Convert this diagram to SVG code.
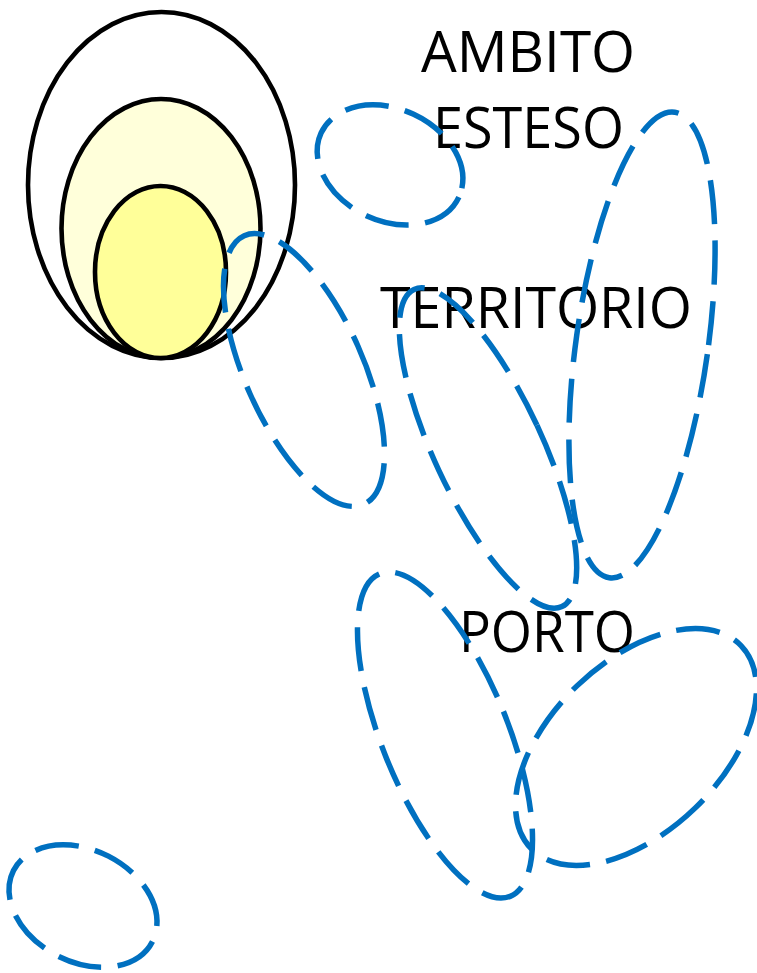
<svg xmlns="http://www.w3.org/2000/svg" width="757" height="973" viewBox="0 0 757 973">
<style>
.lbl{font-family:"Open Sans",Lato,"Liberation Sans",sans-serif;font-size:56px;fill:#000}
.blk{stroke:#000;stroke-width:4.6}
.dash{fill:none;stroke:#0070C0;stroke-width:5.5;stroke-dasharray:44 16.5}
</style>
<rect width="757" height="973" fill="#fff"/>
<g id="nested">
<ellipse id="outer" class="blk" cx="161.5" cy="185" rx="133.5" ry="173" fill="#fff"/>
<ellipse id="middle" class="blk" cx="161" cy="228.5" rx="99.5" ry="129.5" fill="#FFFFDA"/>
<ellipse id="inner" class="blk" cx="160.5" cy="272" rx="65.5" ry="86" fill="#FFFF99"/>
</g>
<g id="labels">
<text id="t-ambito" class="lbl" x="421" y="72" textLength="214" lengthAdjust="spacingAndGlyphs">AMBITO</text>
<text id="t-esteso" class="lbl" x="433" y="148" textLength="191" lengthAdjust="spacingAndGlyphs">ESTESO</text>
<text id="t-territorio" class="lbl" x="380" y="328" textLength="312" lengthAdjust="spacingAndGlyphs">TERRITORIO</text>
<text id="t-porto" class="lbl" x="459" y="652" textLength="176" lengthAdjust="spacingAndGlyphs">PORTO</text>
</g>
<g id="regions">
<ellipse id="e1" class="dash" cx="390" cy="165" rx="76" ry="56" transform="rotate(25 390 165)"/>
<ellipse id="e2" class="dash" cx="304" cy="370" rx="59" ry="147" transform="rotate(-24 304 370)"/>
<ellipse id="e3" class="dash" cx="642" cy="345" rx="66" ry="235" transform="rotate(8 642 345)"/>
<ellipse id="e4" class="dash" cx="488" cy="448" rx="54" ry="175" transform="rotate(-25 488 448)"/>
<ellipse id="e5" class="dash" cx="445" cy="735" rx="63" ry="174" transform="rotate(-22 445 735)"/>
<ellipse id="e6" class="dash" cx="636" cy="747" rx="85" ry="146" transform="rotate(46 636 747)"/>
<ellipse id="e7" class="dash" cx="83" cy="906" rx="78" ry="56" transform="rotate(27 83 906)"/>
</g>
</svg>
